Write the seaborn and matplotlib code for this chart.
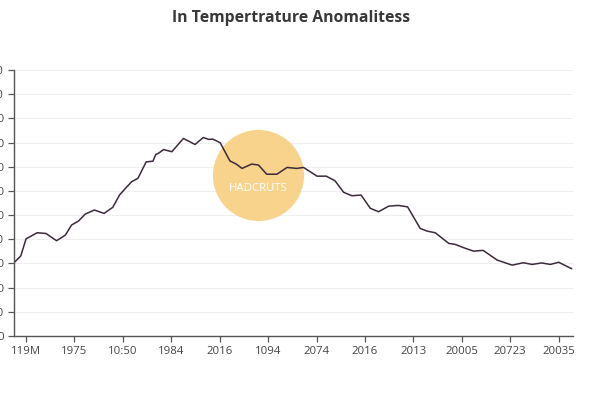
import seaborn as sns
import pandas as pd
import matplotlib.pyplot as plt

# x positions in tick units (tick k sits at k), y values of the anomaly line
pos = [-0.25, -0.11, 0.0, 0.23, 0.41, 0.63, 0.81, 0.94, 1.08, 1.22, 1.41, 1.61, 1.79, 1.93,
       2.05, 2.18, 2.31, 2.48, 2.62, 2.68, 2.73, 2.84, 3.01, 3.25, 3.49, 3.66, 3.77, 3.86,
       4.01, 4.21, 4.34, 4.46, 4.66, 4.80, 4.97, 5.18, 5.39, 5.59, 5.73, 6.01, 6.20, 6.38,
       6.56, 6.73, 6.92, 7.11, 7.28, 7.49, 7.69, 7.88, 8.14, 8.28, 8.45, 8.73, 8.86, 9.04,
       9.24, 9.44, 9.73, 10.04, 10.27, 10.45, 10.65, 10.83, 11.00, 11.27]
anomaly = [30.3, 33.1, 40.2, 42.7, 42.4, 39.4, 41.7, 45.9, 47.5, 50.4, 52.1, 50.7, 53.2, 58.3,
           61.0, 63.8, 65.2, 72.0, 72.3, 75.1, 75.5, 77.1, 76.2, 81.7, 79.2, 82.1, 81.3, 81.4,
           79.9, 72.4, 71.1, 69.3, 71.1, 70.7, 66.9, 66.9, 69.7, 69.3, 69.7, 66.1, 66.1, 64.2,
           59.4, 58.0, 58.3, 52.8, 51.4, 53.7, 54.0, 53.4, 44.5, 43.4, 42.7, 38.3, 37.9, 36.5,
           35.1, 35.4, 31.4, 29.3, 30.3, 29.6, 30.2, 29.6, 30.5, 27.8]

tick_labels = ["119M", "1975", "10:50", "1984", "2016", "1094",
               "2074", "2016", "2013", "20005", "20723", "20035"]
y_ticks = [0, 10, 20, 30, 40, 50, 60, 70, 80, 90, 100, 110]

highlight_label = "HADCRUTS"
highlight_x = 4.79
highlight_y = 66.5

df = pd.DataFrame({"pos": pos, "anomaly": anomaly})

sns.set_theme(style="white")
plt.rcParams['font.family'] = ['Open Sans', 'DejaVu Sans']

fig = plt.figure(figsize=(6, 4), dpi=100)
ax = fig.add_axes([0.0233, 0.16, 0.932, 0.665])

ax.scatter([highlight_x], [highlight_y], s=4300, color="#f7cf80", alpha=0.9,
           linewidths=0, zorder=1)
ax.text(highlight_x, highlight_y - 5.5, highlight_label, color="white", fontsize=8.2,
        ha="center", va="center", zorder=3)

sns.lineplot(data=df, x="pos", y="anomaly", color="#3b2a3c", linewidth=1.1,
             estimator=None, ax=ax, zorder=2)

ax.set_xlim(-0.25, 11.3)
ax.set_ylim(0, 110)
ax.set_xticks(range(len(tick_labels)))
ax.set_xticklabels(tick_labels)
ax.set_yticks(y_ticks)
ax.set_yticklabels([str(v) for v in y_ticks])
ax.set_xlabel("")
ax.set_ylabel("")

ax.grid(axis="y", color="#efefef", linewidth=0.8)
ax.set_axisbelow(True)
for s in ["top", "right"]:
    ax.spines[s].set_visible(False)
for s in ["left", "bottom"]:
    ax.spines[s].set_color("#555555")
    ax.spines[s].set_linewidth(1.0)
ax.tick_params(axis="both", which="both", length=4, width=0.9, color="#555555",
               labelsize=8.2, labelcolor="#444444", bottom=True, left=True, pad=3)

fig.text(0.485, 0.955, "In Tempertrature Anomalitess", ha="center", va="center",
         fontsize=11.3, fontweight="bold", color="#383838")

fig.savefig("out.png", dpi=100)
